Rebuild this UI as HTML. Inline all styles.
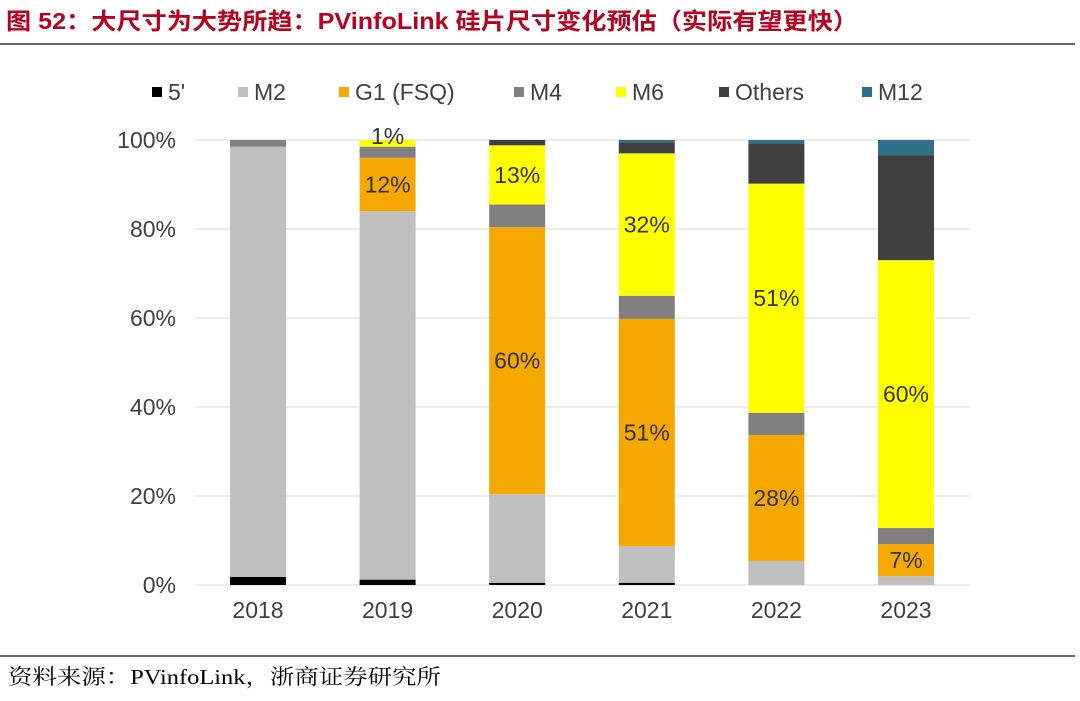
<!DOCTYPE html>
<html><head><meta charset="utf-8"><style>
body{margin:0;background:#fff;width:1080px;height:696px;overflow:hidden;font-family:"Liberation Sans","Noto Sans CJK SC",sans-serif}
</style></head><body>
<svg id="chart" width="1080" height="696" xmlns="http://www.w3.org/2000/svg">
<text x="6" y="29" font-size="23" font-weight="bold" fill="#b8001f" textLength="852" lengthAdjust="spacingAndGlyphs" font-family="Liberation Sans,Noto Sans CJK SC,sans-serif">图 52：大尺寸为大势所趋：PVinfoLink 硅片尺寸变化预估（实际有望更快）</text>
<line x1="0" y1="44" x2="1075" y2="44" stroke="#333" stroke-width="1.5"/>
<line x1="0" y1="656" x2="1075" y2="656" stroke="#333" stroke-width="1.5"/>
<text x="8" y="684" font-size="21" fill="#000" textLength="433" lengthAdjust="spacingAndGlyphs" font-family="Liberation Serif,Noto Serif CJK SC,serif">资料来源：PVinfoLink，浙商证券研究所</text>
<g id="grid"></g><g id="bars"></g><g id="legend"></g>
</svg>
<script>
const years=["2018","2019","2020","2021","2022","2023"];
const seriesNames=["5'","M2","G1 (FSQ)","M4","M6","Others","M12"];
const s5=[1.8,1.2,0.5,0.5,0,0];
const sM2=[96.7,82.8,19.9,8.2,5.4,2];
const sG1=[0,12,60,51.1,28.3,7.2];
const sM4=[1.5,2.5,5.1,5.2,5,3.6];
const sM6=[0,1.5,13.3,32,51.5,60.2];
const sOthers=[0,0,1.2,2.5,9,23.6];
const sM12=[0,0,0,0.5,0.8,3.4];
const labels=[[],[null,null,"12%",null,"1%"],[null,null,"60%",null,"13%"],[null,null,"51%",null,"32%"],[null,null,"28%",null,"51%"],[null,null,"7%",null,"60%"]];
const ticks=[0,20,40,60,80,100];
const colors=["#000","#bfbfbf","#f5a800","#808080","#ffff00","#404040","#31708a"];
const series=[s5,sM2,sG1,sM4,sM6,sOthers,sM12];
const NS="http://www.w3.org/2000/svg";
const y=v=>585-v*4.45, x=i=>258+i*129.6;
function el(t,a,p){const e=document.createElementNS(NS,t);for(const k in a)e.setAttribute(k,a[k]);p.appendChild(e);return e;}
const grid=document.getElementById('grid');
ticks.forEach(t=>{
 const l=el('line',{x1:195,x2:970,y1:y(t),y2:y(t),stroke:'#d9d9d9','stroke-width':1},grid);
 
 
 const tx=el('text',{x:176,y:y(t)+8,'text-anchor':'end','font-size':23,fill:'#404040'},grid);
 tx.textContent=t+'%';
 
 
});
const bars=document.getElementById('bars');
years.forEach((yr,i)=>{
 let acc=0;
 series.forEach((s,j)=>{
  const v=s[i]; if(v<=0){return;}
  const r=el('rect',{x:x(i)-28,y:y(acc+v),width:56,height:v*4.45,fill:colors[j]},bars);
  
  
  const lb=labels[i][j];
  if(lb){
   let ly=y(acc+v/2)+8;
   if(lb==="1%") ly=y(100)+4;
   const t=el('text',{x:x(i),y:ly,'text-anchor':'middle','font-size':23,fill:'#333'},bars);
   t.textContent=lb;
   
   
  }
  acc+=v;
 });
 const t=el('text',{x:x(i),y:618,'text-anchor':'middle','font-size':23,fill:'#404040'},bars);
 t.textContent=yr;
 
 
});
const lg=document.getElementById('legend');
const lx=[152,238,339,514,616,719,862];
seriesNames.forEach((n,j)=>{
 const r=el('rect',{x:lx[j],y:87,width:10,height:10,fill:colors[j]},lg);
 
 
 const t=el('text',{x:lx[j]+16,y:100,'font-size':23,fill:'#404040'},lg);
 t.textContent=n;
 
 
});
</script>
</body></html>
